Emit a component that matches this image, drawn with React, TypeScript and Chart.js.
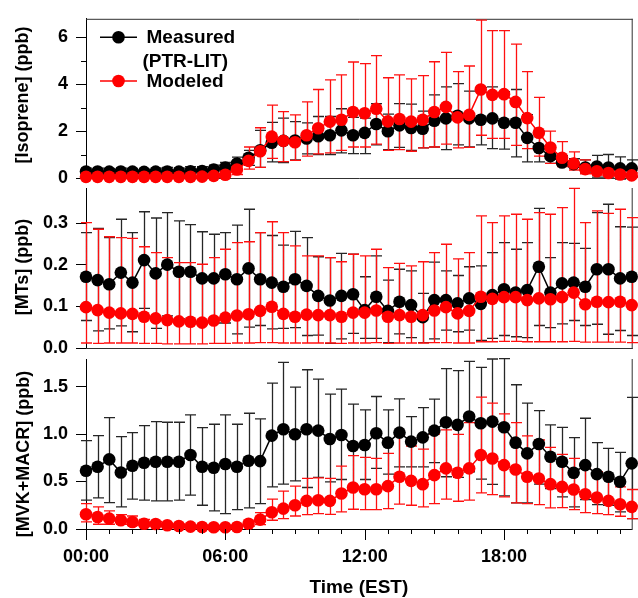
import React, { useEffect, useRef } from 'react';
import { Chart, registerables } from 'chart.js';

Chart.register(...registerables);

// ---------- data ----------
const HOURS = [0, 0.5, 1, 1.5, 2, 2.5, 3, 3.5, 4, 4.5, 5, 5.5, 6, 6.5, 7, 7.5, 8, 8.5, 9, 9.5, 10, 10.5, 11, 11.5,
  12, 12.5, 13, 13.5, 14, 14.5, 15, 15.5, 16, 16.5, 17, 17.5, 18, 18.5, 19, 19.5, 20, 20.5, 21, 21.5, 22, 22.5, 23, 23.5];

const X_MAJOR_HOURS = [0, 6, 12, 18];
const X_TICK_LABELS = ['00:00', '06:00', '12:00', '18:00'];
const X_MINOR_HOURS = [1, 2, 3, 4, 5, 7, 8, 9, 10, 11, 13, 14, 15, 16, 17, 19, 20, 21, 22, 23];

// Isoprene (ppb)
const ISO_MEAS = [0.28, 0.28, 0.27, 0.28, 0.27, 0.26, 0.27, 0.28, 0.27, 0.29, 0.30, 0.36, 0.45, 0.62, 0.86, 1.18, 1.50, 1.58, 1.60, 1.68, 1.78, 1.82, 2.03, 1.82,
  1.92, 2.30, 1.99, 2.24, 2.13, 2.10, 2.44, 2.54, 2.65, 2.54, 2.48, 2.54, 2.35, 2.35, 1.71, 1.28, 0.93, 0.66, 0.59, 0.45, 0.49, 0.45, 0.41, 0.41];
const ISO_MEAS_HI = [0.42, 0.42, 0.40, 0.42, 0.40, 0.38, 0.42, 0.45, 0.42, 0.48, 0.48, 0.55, 0.66, 0.89, 1.18, 2.03, 2.37, 2.55, 2.40, 2.35, 2.62, 2.62, 2.95, 2.58,
  2.55, 3.17, 2.72, 3.17, 3.15, 2.85, 3.54, 3.88, 4.02, 3.70, 3.85, 3.88, 3.68, 3.77, 2.70, 2.00, 1.35, 0.95, 0.82, 0.77, 0.96, 1.00, 0.90, 0.77];
const ISO_MEAS_LO = [0.16, 0.16, 0.15, 0.16, 0.15, 0.14, 0.14, 0.15, 0.14, 0.13, 0.13, 0.17, 0.24, 0.35, 0.54, 0.45, 0.69, 0.66, 0.77, 1.03, 1.00, 1.00, 1.07, 1.04,
  1.04, 1.41, 1.21, 1.30, 1.18, 1.28, 1.32, 1.21, 1.41, 1.32, 1.41, 1.25, 1.23, 0.90, 0.69, 0.69, 0.62, 0.50, 0.45, 0.25, 0.04, 0.04, -0.05, 0.06];
const ISO_MOD = [0.05, 0.05, 0.05, 0.05, 0.05, 0.05, 0.05, 0.05, 0.05, 0.05, 0.06, 0.09, 0.14, 0.36, 0.73, 1.14, 1.76, 1.58, 1.52, 1.82, 2.12, 2.40, 2.48, 2.81,
  2.76, 2.95, 2.41, 2.51, 2.40, 2.48, 2.81, 3.03, 2.58, 2.69, 3.77, 3.54, 3.57, 3.24, 2.55, 1.93, 1.30, 0.86, 0.62, 0.38, 0.29, 0.21, 0.15, 0.11];
const ISO_MOD_HI = [0.10, 0.10, 0.10, 0.10, 0.10, 0.10, 0.10, 0.10, 0.10, 0.10, 0.12, 0.18, 0.28, 0.59, 1.32, 2.14, 3.10, 2.83, 2.69, 3.24, 3.77, 4.18, 4.39, 4.94,
  4.87, 5.21, 4.27, 4.39, 4.22, 4.36, 4.95, 5.35, 4.53, 4.77, 6.72, 6.28, 6.28, 5.70, 4.53, 3.43, 2.00, 1.55, 1.11, 0.77, 0.55, 0.40, 0.30, 0.22];
const ISO_MOD_LO = [0.01, 0.01, 0.01, 0.01, 0.01, 0.01, 0.01, 0.01, 0.01, 0.01, 0.02, 0.03, 0.05, 0.15, 0.38, 0.45, 0.84, 0.70, 0.75, 0.93, 1.03, 1.07, 1.18, 1.32,
  1.32, 1.44, 1.18, 1.21, 1.14, 1.28, 1.32, 1.44, 1.28, 1.30, 1.82, 1.69, 1.69, 1.39, 1.25, 0.93, 0.62, 0.49, 0.34, 0.18, 0.12, 0.08, 0.05, 0.03];

// Monoterpenes (ppb)
const MT_MEAS = [0.171, 0.163, 0.153, 0.181, 0.157, 0.211, 0.179, 0.200, 0.183, 0.183, 0.167, 0.167, 0.177, 0.165, 0.191, 0.165, 0.157, 0.147, 0.165, 0.149, 0.125, 0.114, 0.125, 0.129,
  0.091, 0.123, 0.089, 0.111, 0.103, 0.074, 0.115, 0.115, 0.107, 0.119, 0.106, 0.127, 0.141, 0.133, 0.139, 0.195, 0.133, 0.155, 0.157, 0.147, 0.189, 0.189, 0.167, 0.171];
const MT_MEAS_HI = [0.277, 0.287, 0.265, 0.309, 0.277, 0.327, 0.312, 0.325, 0.305, 0.296, 0.279, 0.273, 0.277, 0.295, 0.333, 0.277, 0.270, 0.247, 0.280, 0.265, 0.219, 0.217, 0.227, 0.225,
  0.171, 0.221, 0.163, 0.189, 0.185, 0.131, 0.206, 0.185, 0.174, 0.195, 0.197, 0.229, 0.253, 0.237, 0.253, 0.335, 0.217, 0.253, 0.251, 0.239, 0.325, 0.345, 0.291, 0.290];
const MT_MEAS_LO = [0.066, 0.041, 0.046, 0.053, 0.039, 0.095, 0.047, 0.077, 0.070, 0.068, 0.062, 0.060, 0.060, 0.034, 0.050, 0.054, 0.046, 0.047, 0.049, 0.030, 0.031, 0.011, 0.022, 0.035,
  0.023, 0.023, 0.013, 0.034, 0.025, 0.013, 0.022, 0.043, 0.039, 0.043, 0.018, 0.023, 0.030, 0.027, 0.025, 0.054, 0.049, 0.058, 0.066, 0.054, 0.057, 0.033, 0.042, 0.030];
const MT_MOD = [0.098, 0.091, 0.085, 0.083, 0.082, 0.075, 0.071, 0.067, 0.064, 0.063, 0.061, 0.066, 0.073, 0.078, 0.081, 0.089, 0.099, 0.082, 0.075, 0.080, 0.079, 0.079, 0.075, 0.085,
  0.085, 0.090, 0.075, 0.079, 0.075, 0.079, 0.090, 0.098, 0.083, 0.089, 0.123, 0.118, 0.122, 0.122, 0.115, 0.119, 0.117, 0.122, 0.133, 0.105, 0.111, 0.110, 0.111, 0.103];
const MT_MOD_HI = [0.301, 0.285, 0.267, 0.265, 0.263, 0.243, 0.229, 0.217, 0.205, 0.205, 0.201, 0.217, 0.237, 0.253, 0.255, 0.277, 0.303, 0.277, 0.245, 0.221, 0.221, 0.217, 0.207, 0.225,
  0.221, 0.237, 0.193, 0.203, 0.197, 0.207, 0.229, 0.249, 0.214, 0.229, 0.317, 0.301, 0.317, 0.321, 0.309, 0.325, 0.321, 0.337, 0.383, 0.301, 0.329, 0.323, 0.333, 0.313];
const MT_MOD_LO = [0.012, 0.011, 0.012, 0.012, 0.012, 0.011, 0.011, 0.010, 0.010, 0.010, 0.010, 0.011, 0.011, 0.012, 0.012, 0.013, 0.013, 0.012, 0.012, 0.012, 0.012, 0.012, 0.011, 0.012,
  0.012, 0.013, 0.011, 0.012, 0.012, 0.012, 0.013, 0.013, 0.012, 0.012, 0.015, 0.015, 0.016, 0.016, 0.015, 0.015, 0.015, 0.015, 0.016, 0.014, 0.014, 0.014, 0.014, 0.013];

// MVK + MACR (ppb)
const MVK_MEAS = [0.613, 0.655, 0.733, 0.595, 0.666, 0.698, 0.708, 0.708, 0.708, 0.779, 0.655, 0.645, 0.684, 0.655, 0.719, 0.715, 0.983, 1.050, 0.997, 1.050, 1.036, 0.948, 0.990, 0.874,
  0.884, 1.008, 0.909, 1.015, 0.920, 0.965, 1.036, 1.124, 1.096, 1.184, 1.113, 1.131, 1.071, 0.909, 0.796, 0.895, 0.761, 0.708, 0.592, 0.673, 0.578, 0.550, 0.497, 0.691];
const MVK_MEAS_HI = [0.930, 0.983, 1.173, 0.973, 1.015, 1.089, 1.131, 1.124, 1.124, 1.202, 1.068, 1.103, 1.202, 1.103, 1.219, 1.159, 1.536, 1.755, 1.494, 1.677, 1.579, 1.420, 1.473, 1.314,
  1.254, 1.395, 1.254, 1.371, 1.184, 1.279, 1.367, 1.688, 1.667, 1.765, 1.702, 1.790, 1.793, 1.519, 1.325, 1.247, 1.096, 1.071, 0.962, 1.166, 0.909, 0.849, 0.807, 1.385];
const MVK_MEAS_LO = [0.303, 0.328, 0.278, 0.233, 0.314, 0.303, 0.296, 0.296, 0.303, 0.356, 0.250, 0.190, 0.162, 0.204, 0.222, 0.268, 0.444, 0.472, 0.507, 0.437, 0.543, 0.497, 0.521, 0.444,
  0.521, 0.638, 0.578, 0.655, 0.655, 0.655, 0.698, 0.550, 0.543, 0.603, 0.525, 0.469, 0.349, 0.275, 0.275, 0.472, 0.426, 0.338, 0.233, 0.310, 0.257, 0.250, 0.180, 0.109];
const MVK_MOD = [0.155, 0.127, 0.109, 0.092, 0.074, 0.056, 0.053, 0.039, 0.032, 0.025, 0.021, 0.018, 0.018, 0.021, 0.056, 0.099, 0.176, 0.215, 0.250, 0.296, 0.303, 0.296, 0.374, 0.437,
  0.419, 0.419, 0.451, 0.550, 0.507, 0.472, 0.567, 0.638, 0.592, 0.638, 0.779, 0.743, 0.673, 0.627, 0.550, 0.532, 0.472, 0.444, 0.416, 0.366, 0.331, 0.296, 0.261, 0.233];
const MVK_MOD_HI = [0.268, 0.233, 0.190, 0.152, 0.137, 0.100, 0.080, 0.060, 0.050, 0.045, 0.040, 0.035, 0.035, 0.040, 0.085, 0.173, 0.314, 0.398, 0.451, 0.532, 0.539, 0.532, 0.662, 0.772,
  0.754, 0.743, 0.796, 0.983, 0.874, 0.842, 1.000, 1.043, 0.997, 1.120, 1.388, 1.325, 1.212, 1.120, 0.980, 0.937, 0.860, 0.786, 0.743, 0.638, 0.603, 0.525, 0.444, 0.416];
const MVK_MOD_LO = [0.074, 0.050, 0.050, 0.049, 0.035, 0.025, 0.025, 0.020, 0.015, 0.010, 0.008, 0.006, 0.006, 0.008, 0.030, 0.046, 0.092, 0.109, 0.137, 0.152, 0.162, 0.155, 0.180, 0.208,
  0.204, 0.204, 0.215, 0.261, 0.250, 0.233, 0.268, 0.314, 0.292, 0.303, 0.381, 0.363, 0.338, 0.275, 0.268, 0.257, 0.222, 0.226, 0.204, 0.173, 0.162, 0.152, 0.134, 0.109];

const ISO_TICKS_MINOR = [1, 3, 5];

// ---------- styling ----------
const FONT = '"Liberation Sans", Arial, Helvetica, sans-serif';
const BLACK = '#000000';
const RED = '#ff0000';
const BLACK_ERR = '#262626';
const RED_ERR = '#ff1010';
const CAP = 5.5;
const W = 638;
const H = 598;

type Series = { label: string; values: number[]; hi: number[]; lo: number[]; color: string; errColor: string; order: number };
type Panel = {
  title: string; titleX: number; titleY: number;
  yMax: number; yStep: number; decimals: number; yMinor: number[];
  top: number; bottom: number; showX: boolean; topBorder: boolean; legend: boolean;
  series: Series[];
};

const PANELS: Panel[] = [
  {
    title: '[Isoprene] (ppb)', titleX: 23, titleY: 95, yMax: 6.78, yStep: 2, decimals: 0, yMinor: ISO_TICKS_MINOR,
    top: 13, bottom: 178, showX: false, topBorder: true, legend: true,
    series: [
      { label: 'Measured (PTR-LIT)', values: ISO_MEAS, hi: ISO_MEAS_HI, lo: ISO_MEAS_LO, color: BLACK, errColor: BLACK_ERR, order: 2 },
      { label: 'Modeled', values: ISO_MOD, hi: ISO_MOD_HI, lo: ISO_MOD_LO, color: RED, errColor: RED_ERR, order: 1 },
    ],
  },
  {
    title: '[MTs] (ppb)', titleX: 23, titleY: 267, yMax: 0.384, yStep: 0.1, decimals: 1, yMinor: [],
    top: 188, bottom: 348, showX: false, topBorder: false, legend: false,
    series: [
      { label: 'Measured (PTR-LIT)', values: MT_MEAS, hi: MT_MEAS_HI, lo: MT_MEAS_LO, color: BLACK, errColor: BLACK_ERR, order: 2 },
      { label: 'Modeled', values: MT_MOD, hi: MT_MOD_HI, lo: MT_MOD_LO, color: RED, errColor: RED_ERR, order: 1 },
    ],
  },
  {
    title: '[MVK+MACR] (ppb)', titleX: 24, titleY: 454, yMax: 1.79, yStep: 0.5, decimals: 1, yMinor: [],
    top: 359, bottom: 529, showX: true, topBorder: false, legend: false,
    series: [
      { label: 'Measured (PTR-LIT)', values: MVK_MEAS, hi: MVK_MEAS_HI, lo: MVK_MEAS_LO, color: BLACK, errColor: BLACK_ERR, order: 2 },
      { label: 'Modeled', values: MVK_MOD, hi: MVK_MOD_HI, lo: MVK_MOD_LO, color: RED, errColor: RED_ERR, order: 1 },
    ],
  },
];

function makePlugin(p: Panel) {
  return {
    id: 'panelDecor',
    beforeDatasetsDraw(chart: any) {
      const { ctx, chartArea: a } = chart;
      const xs = chart.scales.x;
      const ys = chart.scales.y;
      ctx.save();
      ctx.strokeStyle = '#303030';
      ctx.lineWidth = 1;
      ctx.beginPath();
      ctx.moveTo(a.right + 0.5, a.top);
      ctx.lineTo(a.right + 0.5, a.bottom + 1);
      if (p.topBorder) {
        ctx.moveTo(a.left, a.top + 0.5);
        ctx.lineTo(a.right + 1, a.top + 0.5);
      }
      if (!p.showX) {
        ctx.moveTo(a.left, a.bottom + 0.5);
        ctx.lineTo(a.right + 1, a.bottom + 0.5);
      }
      ctx.stroke();
      // error bars (measured first, then modeled)
      for (const s of p.series) {
        ctx.strokeStyle = s.errColor;
        ctx.lineWidth = 1.3;
        ctx.beginPath();
        HOURS.forEach((h, i) => {
          const x = Math.round(xs.getPixelForValue(h)) + 0.5;
          const y1 = ys.getPixelForValue(s.lo[i]);
          const y2 = ys.getPixelForValue(s.hi[i]);
          ctx.moveTo(x, y1);
          ctx.lineTo(x, y2);
          ctx.moveTo(x - CAP, y1);
          ctx.lineTo(x + CAP, y1);
          ctx.moveTo(x - CAP, y2);
          ctx.lineTo(x + CAP, y2);
        });
        ctx.stroke();
      }
      ctx.restore();
    },
    afterDraw(chart: any) {
      const { ctx, chartArea: a } = chart;
      const xs = chart.scales.x;
      const ys = chart.scales.y;
      ctx.save();
      ctx.strokeStyle = '#000';
      ctx.lineWidth = 1;
      ctx.beginPath();
      for (const v of p.yMinor) {
        const y = Math.round(ys.getPixelForValue(v)) + 0.5;
        ctx.moveTo(a.left - 5, y);
        ctx.lineTo(a.left, y);
      }
      if (p.showX) {
        for (const h of X_MAJOR_HOURS) {
          const x = Math.round(xs.getPixelForValue(h)) + 0.5;
          ctx.moveTo(x, a.bottom);
          ctx.lineTo(x, a.bottom + 11);
        }
        for (const h of X_MINOR_HOURS) {
          const x = Math.round(xs.getPixelForValue(h)) + 0.5;
          ctx.moveTo(x, a.bottom);
          ctx.lineTo(x, a.bottom + 5);
        }
      }
      ctx.stroke();

      // y-axis title
      ctx.save();
      ctx.translate(p.titleX, p.titleY);
      ctx.rotate(-Math.PI / 2);
      ctx.font = `bold 18px ${FONT}`;
      ctx.fillStyle = '#000';
      ctx.textAlign = 'center';
      ctx.textBaseline = 'middle';
      ctx.fillText(p.title, 0, 0);
      ctx.restore();

      if (p.legend) {
        const items = [
          { s: p.series[0], y: 37.3, lines: [{ t: 'Measured', x: 146.5, y: 42.5 }, { t: '(PTR-LIT)', x: 142.5, y: 66.5 }] },
          { s: p.series[1], y: 81, lines: [{ t: 'Modeled', x: 146.5, y: 86.5 }] },
        ];
        for (const it of items) {
          ctx.strokeStyle = it.s.color;
          ctx.lineWidth = 1.5;
          ctx.beginPath();
          ctx.moveTo(100, it.y);
          ctx.lineTo(137, it.y);
          ctx.stroke();
          ctx.fillStyle = it.s.color;
          ctx.beginPath();
          ctx.arc(118.5, it.y, 6.3, 0, Math.PI * 2);
          ctx.fill();
          ctx.fillStyle = '#000';
          ctx.font = `bold 19px ${FONT}`;
          ctx.textAlign = 'left';
          ctx.textBaseline = 'alphabetic';
          for (const l of it.lines) ctx.fillText(l.t, l.x, l.y);
        }
      }
      ctx.restore();
    },
  };
}

function makeChart(canvas: HTMLCanvasElement, p: Panel) {
  const datasets = p.series.map((s) => ({
    label: s.label,
    data: HOURS.map((h, i) => ({ x: h, y: s.values[i] })),
    borderColor: s.color,
    backgroundColor: s.color,
    borderWidth: 1.5,
    pointRadius: 6.3,
    pointBorderWidth: 0,
    pointBackgroundColor: s.color,
    pointHoverRadius: 6.3,
    tension: 0,
    clip: false as any,
    order: s.order,
  }));
  const tickFont = { family: FONT, size: 18, weight: 'bold' as const };
  return new Chart(canvas, {
    type: 'line',
    data: { datasets },
    plugins: [makePlugin(p)],
    options: {
      animation: false,
      responsive: false,
      maintainAspectRatio: false,
      events: [],
      layout: {
        padding: { top: p.top, left: 0, right: W - 632, bottom: p.showX ? 0 : H - p.bottom },
      },
      plugins: { legend: { display: false }, tooltip: { enabled: false } },
      scales: {
        x: {
          type: 'linear',
          min: 0,
          max: 23.5,
          display: p.showX,
          grid: { display: false, drawTicks: false },
          border: { display: true, color: '#000', width: 1 },
          ticks: {
            stepSize: 6,
            includeBounds: false,
            autoSkip: false,
            maxRotation: 0,
            padding: 17,
            color: '#000',
            font: tickFont,
            callback: (v: any) => {
              const k = X_MAJOR_HOURS.indexOf(Number(v));
              return k >= 0 ? X_TICK_LABELS[k] : '';
            },
          },
          title: {
            display: true,
            text: 'Time (EST)',
            color: '#000',
            font: { family: FONT, size: 19, weight: 'bold', lineHeight: 1 },
            padding: { top: 0, bottom: 0.5 },
          },
          afterFit: (s: any) => { s.height = p.showX ? H - p.bottom : 0; },
        },
        y: {
          type: 'linear',
          min: 0,
          max: p.yMax,
          grid: { display: true, drawOnChartArea: false, drawTicks: true, tickLength: 10, color: '#000', lineWidth: 1 },
          border: { display: true, color: '#000', width: 1 },
          ticks: {
            stepSize: p.yStep,
            includeBounds: false,
            padding: 8,
            color: '#000',
            font: tickFont,
            callback: (v: any) => Number(v).toFixed(p.decimals),
          },
          afterFit: (s: any) => { s.width = 86; },
        },
      },
    } as any,
  });
}

export default function App() {
  const r1 = useRef<HTMLCanvasElement>(null);
  const r2 = useRef<HTMLCanvasElement>(null);
  const r3 = useRef<HTMLCanvasElement>(null);
  useEffect(() => {
    const refs = [r1, r2, r3];
    const charts = PANELS.map((p, i) => makeChart(refs[i].current as HTMLCanvasElement, p));
    return () => charts.forEach((c) => c.destroy());
  }, []);
  const cs: React.CSSProperties = { position: 'absolute', left: 0, top: 0, width: W, height: H };
  return (
    <div style={{ position: 'fixed', left: 0, top: 0, width: W, height: H, background: '#fff' }}>
      <canvas ref={r1} width={W} height={H} style={cs} />
      <canvas ref={r2} width={W} height={H} style={cs} />
      <canvas ref={r3} width={W} height={H} style={cs} />
    </div>
  );
}
